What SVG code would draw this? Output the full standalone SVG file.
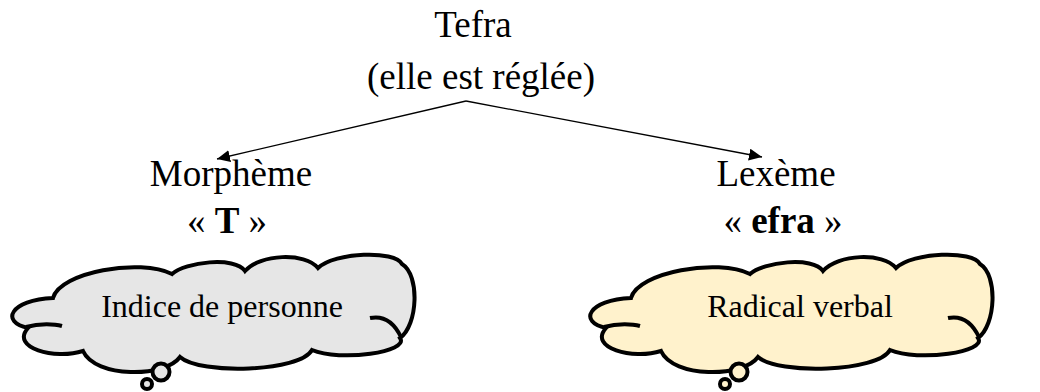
<svg xmlns="http://www.w3.org/2000/svg" width="1040" height="392" viewBox="0 0 1040 392">
<style>
.t{font-family:"Liberation Serif","Times New Roman",serif;font-size:37px;fill:#000;text-anchor:middle}
.s{font-family:"Liberation Serif","Times New Roman",serif;font-size:32px;fill:#000;text-anchor:middle}
.b{font-weight:bold}
.cl{stroke:#000;stroke-width:4;stroke-linejoin:miter;stroke-miterlimit:6}
.stub{fill:none;stroke:#000;stroke-width:4;stroke-linecap:butt}
.edge{fill:none;stroke:#000;stroke-width:1.3}
</style>
<defs>
<marker id="ah" markerUnits="userSpaceOnUse" markerWidth="14" markerHeight="12" refX="13" refY="6" orient="auto">
<path d="M0,0 L13,6 L0,12 Z" fill="#000"/>
</marker>
<g id="cloudShape">
<path class="cl" d="M53,298 C60,272 140,258 172,274 C185,262 235,256 245,271 C260,254 305,252 318,268 C335,252 395,250 402,264 C420,275 418,325 400,338 C410,352 340,362 312,350 C300,372 200,375 180,357 C165,378 95,378 83,351 C55,360 10,348 28,328 C0,322 10,300 53,298 Z"/>
<path class="stub" d="M26,327 C40,323 55,324 62,326"/>
<path class="stub" d="M370,318 Q390,314 401,337"/>
<circle class="cl" cx="161" cy="372" r="8.5"/>
<circle class="cl" cx="147" cy="384" r="5"/>
</g>
</defs>
<g id="tefra">
<text class="t" x="473" y="37">Tefra</text>
<text class="t" x="481" y="89">(elle est réglée)</text>
</g>
<g id="connectors">
<line class="edge" x1="466" y1="101" x2="217" y2="159" marker-end="url(#ah)"/>
<line class="edge" x1="466" y1="101" x2="762" y2="157" marker-end="url(#ah)"/>
</g>
<g id="morpheme">
<text class="t" x="231" y="186">Morphème</text>
<text class="t" x="227" y="233">« <tspan class="b">T</tspan> »</text>
</g>
<g id="lexeme">
<text class="t" x="776" y="186">Lexème</text>
<text class="t" x="783" y="233">« <tspan class="b">efra</tspan> »</text>
</g>
<g id="cloud-indice">
<use href="#cloudShape" fill="#e6e6e6"/>
<text class="s" x="222" y="317">Indice de personne</text>
</g>
<g id="cloud-radical">
<use href="#cloudShape" transform="translate(578,0)" fill="#fff2cc"/>
<text class="s" x="800" y="317">Radical verbal</text>
</g>
</svg>
